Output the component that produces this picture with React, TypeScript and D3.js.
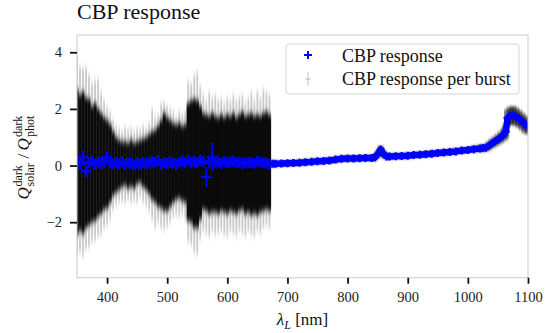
import { useEffect, useRef } from "react";
import * as d3 from "d3";

// wavelengths of the noisy part (nm)
const lam = [
  350, 355, 360, 365, 370, 375, 380, 385, 390, 395, 400, 405, 410, 415, 420, 425, 430,
  435, 440, 445, 450, 455, 460, 465, 470, 475, 480, 485, 490, 495, 500, 505, 510, 515,
  520, 525, 530, 535, 540, 545, 550, 555, 560, 565, 570, 575, 580, 585, 590, 595, 600,
  605, 610, 615, 620, 625, 630, 635, 640, 645, 650, 655, 660, 665, 670,
];
// per burst spread: faint tips and dense core
const outerHi = [
  3.9, 3.5, 3.45, 3.5, 3.2, 2.9, 3.0, 3.05, 2.6, 2.3, 2.05, 1.9, 1.6, 1.4, 1.3, 1.2, 1.35,
  1.25, 1.3, 1.2, 1.3, 1.25, 1.4, 1.3, 1.5, 2.0, 1.7, 1.8, 2.2, 2.25, 2.1, 2.0, 1.9, 1.7,
  1.9, 1.8, 1.9, 3.0, 2.9, 3.2, 3.3, 2.8, 2.5, 2.3, 2.6, 2.4, 2.5, 2.3, 2.4, 2.2, 2.4,
  2.3, 2.5, 2.3, 2.4, 2.5, 2.2, 2.4, 2.6, 2.3, 2.6, 2.4, 2.7, 2.6, 2.5,
];
const coreHi = [
  2.7, 2.5, 2.6, 2.4, 2.35, 2.1, 2.2, 2.0, 1.85, 1.7, 1.6, 1.45, 1.2, 1.0, 0.9, 0.85, 0.85,
  0.8, 0.9, 0.8, 0.85, 0.9, 0.95, 1.0, 1.1, 1.2, 1.25, 1.4, 1.6, 1.85, 1.7, 1.6, 1.5, 1.45,
  1.5, 1.4, 1.45, 2.2, 2.3, 2.35, 2.3, 2.1, 1.85, 1.8, 1.75, 1.85, 1.75, 1.7, 1.8, 1.7, 1.8,
  1.75, 1.85, 1.7, 1.8, 1.9, 1.75, 1.8, 1.85, 1.75, 1.8, 1.75, 1.85, 1.9, 1.8,
];
const coreLo = [
  -2.45, -2.3, -2.4, -2.2, -2.1, -2.0, -1.95, -1.8, -1.7, -1.55, -1.5, -1.3, -1.05, -0.95,
  -0.85, -0.75, -0.7, -0.8, -0.75, -0.8, -0.65, -0.6, -0.75, -0.85, -1.0, -1.2, -1.3, -1.45,
  -1.5, -1.6, -1.6, -1.45, -1.3, -1.2, -1.15, -1.25, -1.3, -1.95, -2.0, -2.2, -2.2, -1.9,
  -1.55, -1.6, -1.7, -1.65, -1.65, -1.7, -1.6, -1.65, -1.7, -1.6, -1.65, -1.7, -1.6, -1.55,
  -1.7, -1.65, -1.75, -1.7, -1.75, -1.65, -1.6, -1.55, -1.6,
];
const outerLo = [
  -3.2, -3.05, -3.2, -2.95, -2.9, -2.7, -2.65, -2.5, -2.45, -2.2, -2.1, -1.9, -1.55, -1.4,
  -1.3, -1.25, -1.3, -1.2, -1.3, -1.25, -1.3, -1.1, -1.3, -1.4, -1.6, -1.9, -2.2, -2.0,
  -2.2, -2.25, -2.15, -2.0, -1.8, -1.75, -1.8, -1.7, -1.9, -2.7, -2.8, -3.05, -3.15, -2.6,
  -2.3, -2.4, -2.5, -2.3, -2.45, -2.4, -2.3, -2.45, -2.5, -2.3, -2.4, -2.5, -2.3, -2.4,
  -2.5, -2.3, -2.45, -2.5, -2.3, -2.4, -2.2, -2.1, -2.2,
];
// mean CBP response over the noisy part
const resp = [
  0.15, 0.05, 0.3, -0.2, 0.1, 0.15, 0.05, 0.12, 0.08, 0.1, 0.3, 0.1, 0.05, 0.1, 0.08, 0.12,
  0.05, 0.1, 0.08, 0.02, 0.1, 0.05, 0.12, 0.08, 0.1, 0.15, 0.12, 0.18, 0.05, 0.1, 0.08, 0.12,
  0.1, 0.05, 0.12, 0.15, 0.1, 0.2, 0.12, 0.15, 0.1, 0.18, 0.15, -0.4, 0.1, 0.3, 0.1, 0.12,
  0.08, 0.15, 0.1, 0.12, 0.15, 0.1, 0.12, 0.08, 0.1, 0.12, 0.1, 0.08, 0.15, 0.12, 0.1, 0.08,
  0.05,
];
const respErr = [
  0.18, 0.14, 0.2, 0.16, 0.14, 0.14, 0.14, 0.14, 0.14, 0.14, 0.18, 0.14, 0.12, 0.12, 0.12,
  0.12, 0.12, 0.12, 0.12, 0.12, 0.12, 0.12, 0.12, 0.12, 0.14, 0.14, 0.14, 0.14, 0.14, 0.14,
  0.14, 0.14, 0.14, 0.14, 0.14, 0.14, 0.14, 0.16, 0.16, 0.16, 0.16, 0.16, 0.14, 0.35, 0.14,
  0.5, 0.14, 0.14, 0.14, 0.14, 0.14, 0.14, 0.14, 0.14, 0.14, 0.14, 0.14, 0.14, 0.14, 0.14,
  0.14, 0.14, 0.14, 0.14, 0.12,
];
// smooth part
const lamTail = [
  675, 680, 690, 700, 710, 720, 730, 740, 750, 760, 770, 780, 790, 800, 810, 820, 830, 840,
  845, 850, 855, 860, 865, 870, 880, 890, 900, 910, 920, 930, 940, 950, 960, 970, 980, 990,
  1000, 1010, 1020, 1025, 1030, 1035, 1040, 1045, 1050, 1055, 1060, 1063, 1066, 1070, 1075,
  1080, 1085, 1090, 1095, 1100,
];
const respTail = [
  0.06, 0.06, 0.07, 0.08, 0.09, 0.1, 0.12, 0.13, 0.15, 0.16, 0.18, 0.21, 0.24, 0.25, 0.25,
  0.26, 0.27, 0.27, 0.28, 0.4, 0.57, 0.4, 0.32, 0.32, 0.33, 0.34, 0.35, 0.37, 0.38, 0.4,
  0.42, 0.44, 0.46, 0.48, 0.5, 0.53, 0.55, 0.58, 0.6, 0.62, 0.63, 0.7, 0.78, 0.85, 0.92,
  1.0, 1.1, 1.2, 1.68, 1.75, 1.78, 1.72, 1.65, 1.55, 1.45, 1.38,
];
const spreadTail = [
  0.12, 0.1, 0.1, 0.1, 0.1, 0.1, 0.1, 0.1, 0.1, 0.1, 0.1, 0.1, 0.1, 0.1, 0.1,
  0.1, 0.1, 0.1, 0.1, 0.12, 0.12, 0.12, 0.1, 0.1, 0.1, 0.1, 0.1, 0.1, 0.1, 0.1,
  0.1, 0.1, 0.1, 0.1, 0.1, 0.1, 0.1, 0.12, 0.12, 0.12, 0.12, 0.15, 0.16, 0.17, 0.18,
  0.2, 0.22, 0.24, 0.3, 0.32, 0.32, 0.32, 0.3, 0.3, 0.3, 0.28,
];
const xTicks = [400, 500, 600, 700, 800, 900, 1000, 1100];
const yTicks = [-2, 0, 2, 4];

const SERIF = "Liberation Serif, Times New Roman, Times, serif";

export default function App() {
  const ref = useRef<SVGSVGElement>(null);

  useEffect(() => {
    if (!ref.current) return;
    const svg = d3.select(ref.current);
    svg.selectAll("*").remove();

    const left = 77, right = 528, top = 35, bottom = 277.7;
    const x = d3.scaleLinear().domain([350, 1100]).range([left, right]);
    const y = d3.scaleLinear().domain([-3.96, 4.61]).range([bottom, top]);

    svg.append("rect").attr("width", 558).attr("height", 333).attr("fill", "#fff");

    // titre
    svg.append("text")
      .attr("x", left).attr("y", 19)
      .attr("font-family", SERIF).attr("font-size", 22).attr("fill", "#111")
      .text("CBP response");

    const defs = svg.append("defs");
    defs.append("clipPath").attr("id", "plot-clip")
      .append("rect").attr("x", left).attr("y", top)
      .attr("width", right - left).attr("height", bottom - top);
    defs.append("filter").attr("id", "fuzz")
      .attr("x", "-5%").attr("y", "-10%").attr("width", "110%").attr("height", "120%")
      .append("feGaussianBlur").attr("stdDeviation", "0.4 3");
    defs.append("filter").attr("id", "fuzz2")
      .attr("x", "-5%").attr("y", "-20%").attr("width", "110%").attr("height", "140%")
      .append("feGaussianBlur").attr("stdDeviation", "0.6 1.5");

    const g = svg.append("g").attr("clip-path", "url(#plot-clip)");
    const bursts = g.append("g").attr("filter", "url(#fuzz)");

    // per burst bars
    bursts.selectAll(".outer").data(lam).enter().append("rect")
      .attr("x", (d) => x(d) - 0.9).attr("width", 1.8)
      .attr("y", (d, i) => y(outerHi[i]))
      .attr("height", (d, i) => y(outerLo[i]) - y(outerHi[i]))
      .attr("fill", "#000").attr("opacity", 0.22);
    bursts.selectAll(".core").data(lam).enter().append("rect")
      .attr("x", (d) => x(d) - 1.7).attr("width", 3.4)
      .attr("y", (d, i) => y(coreHi[i]))
      .attr("height", (d, i) => y(coreLo[i]) - y(coreHi[i]))
      .attr("fill", "#000").attr("opacity", 0.95);

    const tailG = g.append("g").attr("filter", "url(#fuzz2)");
    tailG.selectAll(".tailSpread").data(lamTail).enter().append("line")
      .attr("x1", (d) => x(d)).attr("x2", (d) => x(d))
      .attr("y1", (d, i) => y(respTail[i] + spreadTail[i]))
      .attr("y2", (d, i) => y(respTail[i] - spreadTail[i]))
      .attr("stroke", "#000").attr("stroke-width", 7).attr("opacity", 0.5);

    // reponse CBP
    g.selectAll(".err").data(lam).enter().append("line")
      .attr("x1", (d) => x(d)).attr("x2", (d) => x(d))
      .attr("y1", (d, i) => y(resp[i] + respErr[i]))
      .attr("y2", (d, i) => y(resp[i] - respErr[i]))
      .attr("stroke", "#0000ff").attr("stroke-width", 1.8);

    const plus = (sel: any, px: (d: number, i: number) => number, py: (d: number, i: number) => number, s: number) => {
      sel.append("path")
        .attr("d", (d: number, i: number) => {
          const cx = px(d, i), cy = py(d, i);
          return `M${cx - s},${cy}H${cx + s}M${cx},${cy - s}V${cy + s}`;
        })
        .attr("stroke", "#0000ff").attr("stroke-width", 2.4).attr("fill", "none");
    };
    plus(g.selectAll(".pm").data(lam).enter(), (d) => x(d), (d, i) => y(resp[i]), 5.5);

    g.append("path")
      .datum(lamTail)
      .attr("d", d3.line<number>().x((d) => x(d)).y((d, i) => y(respTail[i])))
      .attr("fill", "none").attr("stroke", "#0000ff").attr("stroke-width", 6.5)
      .attr("stroke-linejoin", "round");
    plus(g.selectAll(".pt").data(lamTail).enter(), (d) => x(d), (d, i) => y(respTail[i]), 4);

    // spines
    svg.append("rect")
      .attr("x", left).attr("y", top).attr("width", right - left).attr("height", bottom - top)
      .attr("fill", "none").attr("stroke", "#cccccc").attr("stroke-width", 1);

    const xAxis = svg.append("g").attr("transform", `translate(0,${bottom})`)
      .call(d3.axisBottom(x).tickValues(xTicks).tickSize(6).tickPadding(8.5).tickFormat(d3.format("d")));
    const yAxis = svg.append("g").attr("transform", `translate(${left},0)`)
      .call(d3.axisLeft(y).tickValues(yTicks).tickSize(7).tickPadding(8).tickFormat(d3.format("d")));
    [xAxis, yAxis].forEach((a) => {
      a.attr("font-family", SERIF).attr("font-size", 14.5);
      a.select(".domain").remove();
      a.selectAll("line").attr("stroke", "#111").attr("stroke-width", 1.8);
      a.selectAll("text").attr("fill", "#222");
    });

    // etiquette x
    const xl = svg.append("text")
      .attr("x", (left + right) / 2).attr("y", 325).attr("text-anchor", "middle")
      .attr("font-family", SERIF).attr("font-size", 17).attr("fill", "#111");
    xl.append("tspan").attr("font-style", "italic").text("λ");
    xl.append("tspan").attr("font-style", "italic").attr("font-size", 12).attr("dy", 4).text("L");
    xl.append("tspan").attr("dy", -4).text(" [nm]");

    // etiquette y
    const yl = svg.append("g").attr("transform", "translate(29,156.5) rotate(-90)")
      .attr("font-family", SERIF).attr("fill", "#111");
    const piece = (t: string, px: number, py: number, size: number, italic: boolean) =>
      yl.append("text").attr("x", px).attr("y", py)
        .attr("font-size", size).attr("font-style", italic ? "italic" : "normal").text(t);
    piece("Q", -43, 0, 17, true);
    piece("dark", -30, -7, 12, false);
    piece("solar", -30, 5, 12, false);
    piece("/", -2, 0, 17, false);
    piece("Q", 6, 0, 17, true);
    piece("dark", 19.5, -7, 12, false);
    piece("phot", 19.5, 5, 12, false);

    // legende
    const lg = svg.append("g");
    lg.append("rect")
      .attr("x", 286).attr("y", 44).attr("width", 233).attr("height", 50).attr("rx", 3)
      .attr("fill", "#fff").attr("fill-opacity", 0.85).attr("stroke", "#d5d5d5");
    lg.append("path").attr("d", "M304,55H312M308,51V59")
      .attr("stroke", "#0000ff").attr("stroke-width", 2);
    lg.append("line").attr("x1", 308).attr("x2", 308).attr("y1", 72).attr("y2", 86)
      .attr("stroke", "#000").attr("stroke-width", 1.5).attr("opacity", 0.15);
    lg.append("path").attr("d", "M305,79H311")
      .attr("stroke", "#000").attr("stroke-width", 1.5).attr("opacity", 0.15);
    const labels = ["CBP response", "CBP response per burst"];
    lg.selectAll(".lt").data(labels).enter().append("text")
      .attr("x", 342).attr("y", (d, i) => 61.5 + i * 23.5)
      .attr("font-family", SERIF).attr("font-size", 18).attr("fill", "#111")
      .text((d) => d);
  }, []);

  return (
    <svg
      ref={ref}
      width={558}
      height={333}
      style={{ position: "absolute", left: 0, top: 0, display: "block" }}
    />
  );
}
